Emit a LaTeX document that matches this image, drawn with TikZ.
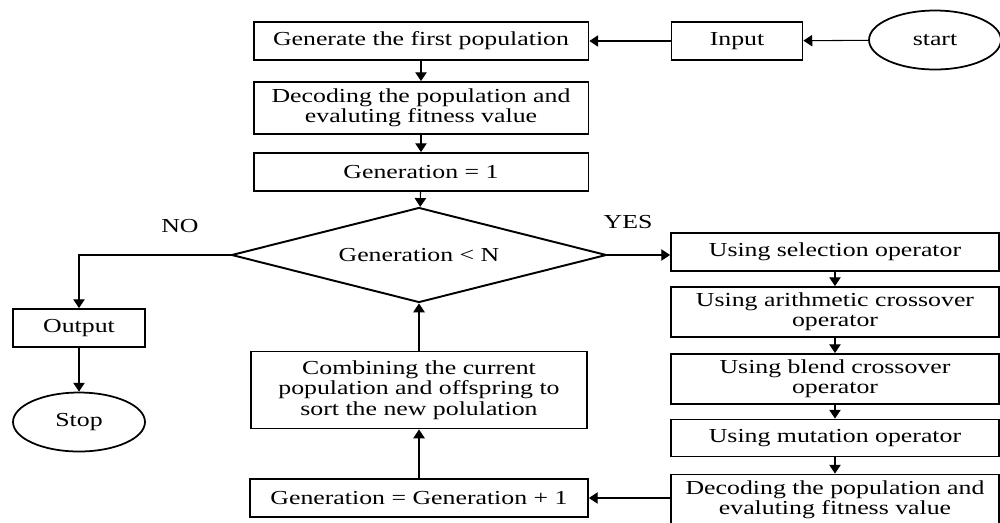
\documentclass[tikz,border=0pt]{standalone}
\usepackage{fontspec}
\setmainfont{Liberation Serif}[FakeStretch=1.3]
\usetikzlibrary{arrows.meta,shapes.geometric}
\def\bw{6.7cm}
\def\rw{6.56cm}
\tikzset{box/.style={draw,line width=1.1pt,minimum width=\bw,minimum height=#1,align=center,inner sep=1pt},
    rbox/.style={box=#1,minimum width=\rw},
    oval/.style={draw,ellipse,line width=1pt,minimum width=2.64cm,minimum height=1.18cm},
    arr/.style={line width=.6pt,-{Triangle[length=5pt,width=6.5pt]}}}

\begin{document}
\begin{tikzpicture}[x=0.02cm,y=-0.02cm,font=\fontsize{11.3}{11.6}\selectfont]
    \useasboundingbox (0,0) rectangle (1000,522);
    % top row
    \node[oval] (start) at (935,40) {start};
    \node[box=.76cm,minimum width=2.62cm] (inp) at (737,41) {Input};
    \node[box=.76cm] (gen) at (421,41) {Generate the first population};
    \node[box=1.04cm] (dec) at (421,108) {Decoding the population and\\evaluting fitness value};
    \node[box=.76cm] (one) at (421,172) {Generation = 1};
    \node[draw,diamond,aspect=3.95,line width=1.1pt,minimum width=7.5cm,minimum height=1.9cm,inner sep=0pt] (dia) at (419,255) {Generation < N};
    % left branch
    \node[box=.76cm,minimum width=2.64cm] (out) at (79,328) {Output};
    \node[oval] (stop) at (79,422) {Stop};
    % right column
    \foreach \n/\y/\h/\t in {sel/252/.76cm/Using selection operator,
        ari/312/1cm/Using arithmetic crossover\\operator,
        ble/379/1cm/Using blend crossover\\operator,
        mut/438/.74cm/Using mutation operator,
        dec2/500/1.02cm/Decoding the population and\\evaluting fitness value}
      \node[rbox=\h] (\n) at (835,\y) {\t};
    % loop back
    \node[box=.76cm,minimum width=6.76cm] (inc) at (419,498) {Generation = Generation + 1};
    \node[box=1.54cm,minimum width=6.72cm] (com) at (419,390) {Combining the current\\population and offspring to\\sort the new polulation};

    \draw[arr] (start) -- (inp);
    \draw[arr] (inp) -- (gen);
    \draw[arr] (gen) -- (dec);
    \draw[arr] (dec) -- (one);
    \draw[arr] (one) -- (dia);
    \draw[arr] (dia.west) -| (out.north);
    \draw[arr] (out) -- (stop);
    \draw[arr] (dia.east) -- (dia.east -| sel.west);
    \draw[arr] (sel) -- (ari);
    \draw[arr] (ari) -- (ble);
    \draw[arr] (ble) -- (mut);
    \draw[arr] (mut) -- (dec2);
    \draw[arr] (dec2.west |- inc) -- (inc);
    \draw[arr] (inc) -- (com);
    \draw[arr] (com) -- (dia);
    \node (no) at (180,226) {NO};
    \node (yes) at (628,222) {YES};
\end{tikzpicture}
\end{document}
